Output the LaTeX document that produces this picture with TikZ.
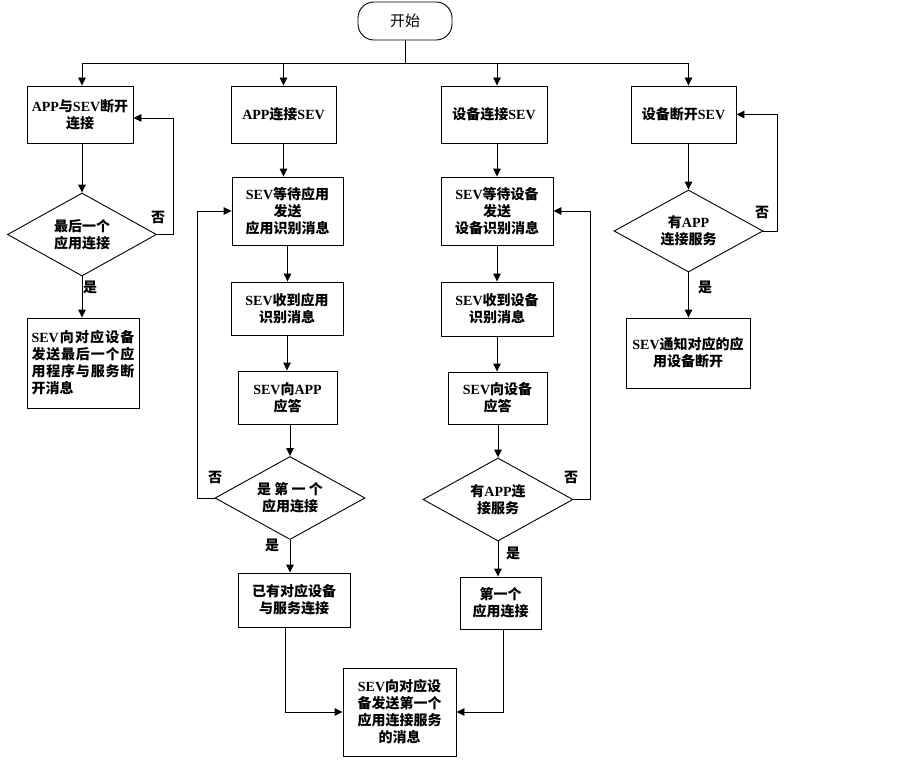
\documentclass[tikz,border=0pt]{standalone}
\usepackage{fontspec}
\setmainfont{Noto Sans CJK SC}
\newfontfamily\en{Liberation Serif}
\usetikzlibrary{shapes.geometric,arrows.meta}
\begin{document}
\begin{tikzpicture}[x=1pt,y=-1pt,
  txt/.style={font=\bfseries\fontsize{14}{17}\selectfont, text=black},
  box/.style={txt, draw, rectangle, line width=0.9pt, align=center, inner sep=2pt},
  dia/.style={txt, draw, diamond, aspect=1.8, line width=0.9pt, inner sep=0pt, align=center},
  term/.style={font=\fontsize{15}{17}\selectfont, draw, line width=0.9pt, rounded corners=16pt, minimum width=94pt, minimum height=38pt},
  arr/.style={line width=0.9pt, -{Triangle[length=8pt,width=7.5pt]}},
  ln/.style={line width=0.9pt},
  lbl/.style={txt, inner sep=0pt}]
\useasboundingbox (0,0) rectangle (903,760);

\node[term] (start) at (405,21) {开始};
\coordinate (bus) at (405,63);

% column 1
\node[box, minimum width=106pt, minimum height=57pt] (b1) at (80,114.5) {{\en APP}与{\en SEV}断开\\连接};
\node[dia, minimum width=149pt, minimum height=83pt] (d1) at (82,234.5) {最后一个\\应用连接};
\node[box, text width=103pt, align=left, inner sep=4.5pt, minimum height=90pt] (e1) at (83,363) {\makebox[103pt][s]{{\en SEV}\hfil 向\hfil 对\hfil 应\hfil 设\hfil 备}\\\makebox[103pt][s]{发\hfil 送\hfil 最\hfil 后\hfil 一\hfil 个\hfil 应}\\\makebox[103pt][s]{用\hfil 程\hfil 序\hfil 与\hfil 服\hfil 务\hfil 断}\\开消息};

% column 2
\node[box, minimum width=105pt, minimum height=57pt] (b2) at (283.5,114.5) {{\en APP}连接{\en SEV}};
\node[box, minimum width=111pt, minimum height=68pt] (c2) at (287.5,211) {{\en SEV}等待应用\\发送\\应用识别消息};
\node[box, minimum width=112pt, minimum height=53pt] (f2) at (287,308.5) {{\en SEV}收到应用\\识别消息};
\node[box, minimum width=99pt, minimum height=53pt] (g2) at (287.5,397.5) {{\en SEV}向{\en APP}\\应答};
\node[dia, minimum width=150pt, minimum height=83pt] (d2) at (290,498) {是 第 一 个\\应用连接};
\node[box, minimum width=112pt, minimum height=54pt] (h2) at (294,600) {已有对应设备\\与服务连接};

% final
\node[box, minimum width=113pt, minimum height=88pt] (fin) at (399.5,712) {{\en SEV}向对应设\\备发送第一个\\应用连接服务\\的消息};

% column 3
\node[box, minimum width=106pt, minimum height=57pt] (b3) at (494,114.5) {设备连接{\en SEV}};
\node[box, minimum width=112pt, minimum height=68pt] (c3) at (497,211) {{\en SEV}等待设备\\发送\\设备识别消息};
\node[box, minimum width=112pt, minimum height=54pt] (f3) at (497,309) {{\en SEV}收到设备\\识别消息};
\node[box, minimum width=99pt, minimum height=52pt] (g3) at (497.5,398) {{\en SEV}向设备\\应答};
\node[dia, minimum width=150pt, minimum height=83pt] (d3) at (498,499.5) {有{\en APP}连\\接服务};
\node[box, minimum width=81pt, minimum height=52pt] (h3) at (500.5,603) {第一个\\应用连接};

% column 4
\node[box, minimum width=105pt, minimum height=57pt] (b4) at (683.5,114.5) {设备断开{\en SEV}};
\node[dia, minimum width=149pt, minimum height=82pt] (d4) at (688.5,231) {有{\en APP}\\连接服务};
\node[box, minimum width=124pt, minimum height=70pt] (e4) at (688,353) {{\en SEV}通知对应的应\\用设备断开};

% labels
\node[lbl] (n1) at (158,217) {否};
\node[lbl] (y1) at (90,287) {是};
\node[lbl] (n2) at (215,477) {否};
\node[lbl] (y2) at (272,545) {是};
\node[lbl] (n3) at (571,477) {否};
\node[lbl] (y3) at (513,553) {是};
\node[lbl] (n4) at (762,212) {否};
\node[lbl] (y4) at (705,287) {是};

% bus
\draw[ln] (start.south) -- (start.south |- bus);
\draw[ln] (d1.north |- bus) -- (d4.north |- bus);
\draw[arr] (d1.north |- bus) -- (d1.north |- b1.north);
\draw[arr] (b2.north |- bus) -- (b2.north);
\draw[arr] (c3.north |- bus) -- (c3.north |- b3.north);
\draw[arr] (d4.north |- bus) -- (d4.north |- b4.north);

% column 1 links
\draw[arr] (d1.north |- b1.south) -- (d1.north);
\draw[arr] (d1.south) -- (d1.south |- e1.north);
\draw[arr] (d1.east) -- ++(16,0) |- ([yshift=-3.5pt]b1.east);

% column 2 links
\draw[arr] (b2.south) -- (b2.south |- c2.north);
\draw[arr] (c2.south) -- (c2.south |- f2.north);
\draw[arr] (f2.south) -- (f2.south |- g2.north);
\draw[arr] (d2.north |- g2.south) -- (d2.north);
\draw[arr] (d2.south) -- (d2.south |- h2.north);
\draw[arr] (d2.west) -- ++(-17,0) |- (c2.west);
\draw[arr] ([xshift=-9pt]h2.south) |- (fin.west);

% column 3 links
\draw[arr] (c3.north |- b3.south) -- (c3.north);
\draw[arr] (c3.south) -- (c3.south |- f3.north);
\draw[arr] (f3.south) -- (f3.south |- g3.north);
\draw[arr] (d3.north |- g3.south) -- (d3.north);
\draw[arr] (d3.south) -- (d3.south |- h3.north);
\draw[arr] (d3.east) -- ++(17,0) |- (c3.east);
\draw[arr] ([xshift=2.5pt]h3.south) |- (fin.east);

% column 4
\draw[arr] (d4.north |- b4.south) -- (d4.north);
\draw[arr] (d4.south) -- (d4.south |- e4.north);
\draw[arr] (d4.east) -- ++(14,0) |- (b4.east);
\end{tikzpicture}
\end{document}
